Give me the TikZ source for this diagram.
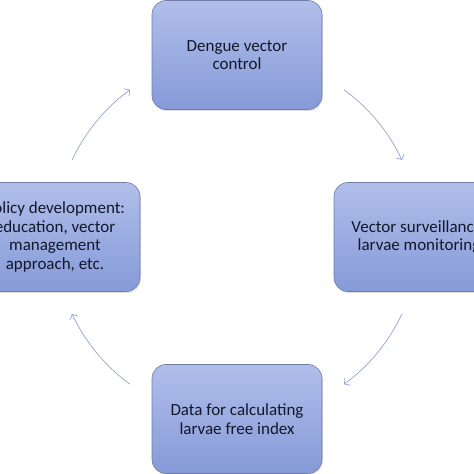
\documentclass[tikz,border=0pt]{standalone}
\usepackage{fontspec}
\setmainfont{Carlito}
\usepackage{tikz}
\usetikzlibrary{arrows.meta}
\usetikzlibrary{shadows}

\definecolor{boxtop}{RGB}{176,190,234}
\definecolor{boxbot}{RGB}{134,154,216}
\definecolor{boxedge}{RGB}{112,124,166}
\definecolor{cycline}{RGB}{150,163,205}
\definecolor{boxtext}{RGB}{18,24,42}

\begin{document}
\begin{tikzpicture}[x=1pt, y=1pt,
	stage/.style={rectangle, rounded corners=14pt, draw=boxedge, line width=0.6pt, top color=boxtop, bottom color=boxbot, minimum width=170pt, minimum height=109pt, align=center, text=boxtext, font=\fontsize{17}{18.5}\selectfont, drop shadow={opacity=0.25, shadow xshift=0.8pt, shadow yshift=-1.5pt}},
	cyc/.style={draw=cycline, line width=0.7pt, -{Straight Barb[length=4pt,width=9pt]}}]
	\useasboundingbox (0,0) rectangle (474,474);
	\coordinate (hub) at (237,237);
%	the four stages
	\node [stage] (dengue) at (237,419) {Dengue vector\\control};
	\node [stage] (surveil) at (419,237) {Vector surveillance,\\larvae monitoring};
	\node [stage] (data) at (237,55) {Data for calculating\\larvae free index};
	\node [stage] (policy) at (55,237) {Policy development:\\education, vector\\management\\approach, etc.};
%	cycle arrows, on the circle through the box centres
	\draw [cyc] ([shift={(155:182)}]hub) arc [start angle=155, end angle=126, radius=182];
	\draw [cyc] ([shift={(54:182)}]hub) arc [start angle=54, end angle=25, radius=182];
	\draw [cyc] ([shift={(-25:182)}]hub) arc [start angle=-25, end angle=-54, radius=182];
	\draw [cyc] ([shift={(-126:182)}]hub) arc [start angle=-126, end angle=-155, radius=182];
\end{tikzpicture}
\end{document}
